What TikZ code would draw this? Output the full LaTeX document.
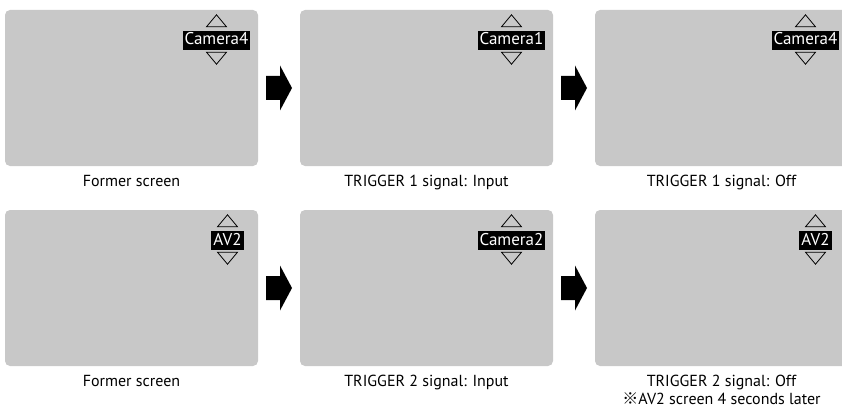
\documentclass[tikz,border=0pt]{standalone}
\usepackage{fontspec}
\setmainfont{PT Sans}
\newfontfamily\cjk{Noto Sans CJK JP}
\usetikzlibrary{calc}
\definecolor{screengray}{RGB}{200,200,200}
\tikzset{
  screen/.style={fill=screengray, rounded corners=5pt, minimum width=253pt, minimum height=156pt, inner sep=0pt, draw=none},
  chlabel/.style={fill=black, text=white, font=\fontsize{17}{19}\selectfont, inner xsep=2pt, inner ysep=0pt, text height=14pt, text depth=5pt},
  caption/.style={font=\fontsize{16}{18}\selectfont, align=center, inner sep=0pt},
  tri/.style={draw=black, line width=0.8pt, line join=miter},
}
\newcommand\updown[1]{%
  \draw[tri] ($(#1.north)+(-10,-4)$) -- ($(#1.north)+(10,-4)$) -- ($(#1.north)+(0,-16)$) -- cycle;
  \draw[tri] ($(#1.south)+(-10,2)$) -- ($(#1.south)+(10,2)$) -- ($(#1.south)+(0,14)$) -- cycle;
}
\newcommand\blockarrow[3]{%
  \coordinate (#3) at ($(#1.east)!0.5!(#2.west)$);
  \fill[black] ($(#3)+(-13,-12)$) -- ($(#3)+(1,-12)$) -- ($(#3)+(1,-22.5)$) -- ($(#3)+(13,0)$) -- ($(#3)+(1,22.5)$) -- ($(#3)+(1,12)$) -- ($(#3)+(-13,12)$) -- cycle;
}
\begin{document}
\begin{tikzpicture}[x=1pt,y=-1pt]
\useasboundingbox (0,0) rectangle (842,409);
\clip (0,0) rectangle (842,409);
% screens
\node[screen] (s1) at (131.5,88) {};
\node[screen] (s2) at (426.5,88) {};
\node[screen] (s3) at (721.5,88) {};
\node[screen] (s4) at (131.5,288) {};
\node[screen] (s5) at (426.5,288) {};
\node[screen] (s6) at (721.5,288) {};
% labels
\node[chlabel] (l1) at (216.5,40.5) {Camera4};
\node[chlabel] (l2) at (511.5,40.5) {Camera1};
\node[chlabel] (l3) at (805.5,40.5) {Camera4};
\node[chlabel] (l4) at (227.5,240.5) {AV2};
\node[chlabel] (l5) at (511.5,240.5) {Camera2};
\node[chlabel] (l6) at (815.5,240.5) {AV2};
\updown{l1}\updown{l2}\updown{l3}\updown{l4}\updown{l5}\updown{l6}
% arrows
\blockarrow{s1}{s2}{a1}
\blockarrow{s2}{s3}{a2}
\blockarrow{s4}{s5}{a3}
\blockarrow{s5}{s6}{a4}
% captions
\node[caption, anchor=north] (c1) at ($(s1.south)+(0,9)$) {Former screen};
\node[caption, anchor=north] (c2) at ($(s2.south)+(0,9)$) {TRIGGER 1 signal: Input};
\node[caption, anchor=north] (c3) at ($(s3.south)+(0,9)$) {TRIGGER 1 signal: Off};
\node[caption, anchor=north] (c4) at ($(s4.south)+(0,9)$) {Former screen};
\node[caption, anchor=north] (c5) at ($(s5.south)+(0,9)$) {TRIGGER 2 signal: Input};
\node[caption, anchor=north] (c6) at ($(s6.south)+(0,9)$) {TRIGGER 2 signal: Off\\{\cjk ※}AV2 screen 4 seconds later};
\end{tikzpicture}
\end{document}
